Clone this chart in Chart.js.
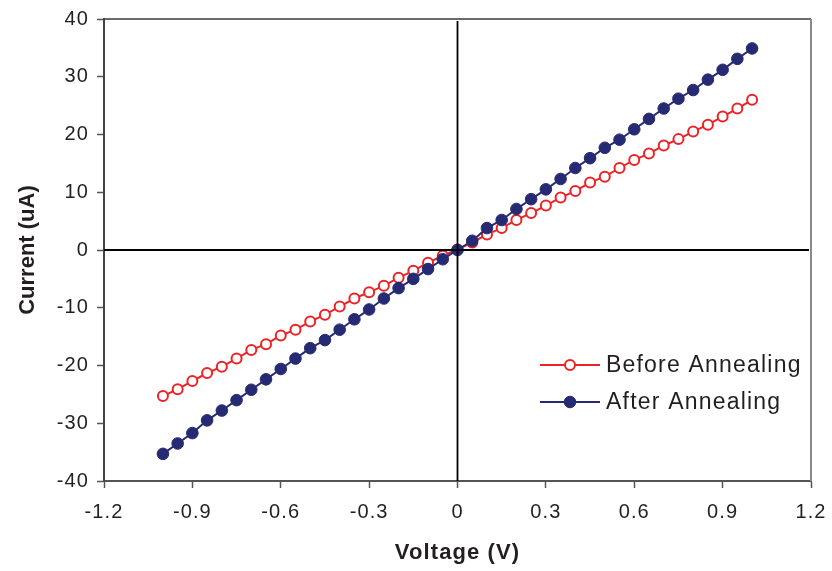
<!DOCTYPE html>
<html><head><meta charset="utf-8">
<script src="https://cdn.jsdelivr.net/npm/chart.js@4/dist/chart.umd.min.js"></script>
<style>html,body{margin:0;padding:0;background:#fff}#wrap{width:832px;height:571px}</style>
</head><body><div id="wrap"><canvas id="c" width="832" height="571"></canvas></div>
<script>
const voltage = [-1.00,-0.95,-0.90,-0.85,-0.80,-0.75,-0.70,-0.65,-0.60,-0.55,-0.50,-0.45,-0.40,-0.35,-0.30,-0.25,-0.20,-0.15,-0.10,-0.05,0.00,0.05,0.10,0.15,0.20,0.25,0.30,0.35,0.40,0.45,0.50,0.55,0.60,0.65,0.70,0.75,0.80,0.85,0.90,0.95,1.00];
const currentBefore = [-25.3,-24.1,-22.7,-21.3,-20.2,-18.8,-17.3,-16.3,-14.8,-13.8,-12.4,-11.2,-9.8,-8.4,-7.3,-6.2,-4.8,-3.6,-2.2,-1.0,0.1,1.3,2.7,3.8,5.2,6.4,7.7,9.1,10.2,11.7,12.7,14.2,15.6,16.7,18.1,19.2,20.5,21.7,23.1,24.5,26.0];
const currentAfter = [-35.3,-33.5,-31.7,-29.5,-27.8,-26.0,-24.2,-22.4,-20.6,-18.8,-17.0,-15.6,-13.8,-12.0,-10.3,-8.4,-6.6,-5.0,-3.3,-1.6,0.0,1.6,3.8,5.2,7.1,8.8,10.5,12.3,14.2,15.9,17.7,19.1,20.9,22.7,24.5,26.2,27.7,29.5,31.2,33.1,34.9];
const xTickValues = [-1.2,-0.9,-0.6,-0.3,0,0.3,0.6,0.9,1.2];
const xTickLabels = ['-1.2','-0.9','-0.6','-0.3','0','0.3','0.6','0.9','1.2'];
const yTickValues = [-40,-30,-20,-10,0,10,20,30,40];
const yTickLabels = ['-40','-30','-20','-10','0','10','20','30','40'];
const seriesLabels = ['Before Annealing','After Annealing'];
const xTitle = 'Voltage (V)';
const yTitle = 'Current (uA)';

const FONT = "'Liberation Sans', Arial, sans-serif";
const TXT = '#231f20';
const RED = '#ec2227';
const BLUE = '#262a72';

const toPoints = ys => voltage.map((v, i) => ({x: v, y: ys[i]}));

const spacingPlugin = {
  id: 'spacing',
  beforeDraw(chart) {
    chart.ctx.letterSpacing = '1.1px';
    const ys = chart.scales.y;
    if (ys && !ys._patched) {
      const orig = ys.drawTitle.bind(ys);
      ys.drawTitle = function() {
        const c = this.ctx; const ls = c.letterSpacing;
        c.letterSpacing = '0px'; orig(); c.letterSpacing = ls;
      };
      ys._patched = true;
    }
  }
};

const framePlugin = {
  id: 'frame',
  beforeDatasetsDraw(chart) {
    const {ctx, chartArea: a} = chart;
    ctx.save();
    ctx.lineWidth = 1.5;
    ctx.strokeStyle = '#3a3a3a';
    ctx.beginPath(); ctx.moveTo(a.left, a.top); ctx.lineTo(a.right, a.top); ctx.stroke();
    ctx.strokeStyle = '#8a8a8a';
    ctx.lineWidth = 2;
    ctx.beginPath(); ctx.moveTo(a.right, a.top); ctx.lineTo(a.right, a.bottom); ctx.stroke();
    ctx.restore();
  },
  afterDatasetsDraw(chart) {
    const {ctx, chartArea: a, scales} = chart;
    const x0 = scales.x.getPixelForValue(0);
    const y0 = scales.y.getPixelForValue(0);
    ctx.save();
    ctx.strokeStyle = '#000';
    ctx.lineWidth = 2;
    ctx.beginPath(); ctx.moveTo(a.left, y0); ctx.lineTo(a.right - 2, y0); ctx.stroke();
    ctx.lineWidth = 1.8;
    ctx.beginPath(); ctx.moveTo(x0, a.top + 2); ctx.lineTo(x0, a.bottom); ctx.stroke();
    ctx.restore();
  }
};

const legendPlugin = {
  id: 'insideLegend',
  afterDraw(chart) {
    const {ctx} = chart;
    const x0 = 540, x1 = 600, tx = 606;
    const rows = [365, 402];
    ctx.save();
    ctx.letterSpacing = '1.2px';
    ctx.font = '23px ' + FONT;
    ctx.textBaseline = 'middle';
    ctx.textAlign = 'left';
    chart.data.datasets.forEach((ds, i) => {
      const y = rows[i];
      ctx.strokeStyle = ds.borderColor;
      ctx.lineWidth = 2;
      ctx.beginPath(); ctx.moveTo(x0, y); ctx.lineTo(x1, y); ctx.stroke();
      ctx.beginPath();
      ctx.arc((x0 + x1) / 2, y, ds.pointRadius, 0, Math.PI * 2);
      ctx.fillStyle = ds.pointBackgroundColor;
      ctx.fill();
      ctx.lineWidth = ds.pointBorderWidth;
      ctx.strokeStyle = ds.pointBorderColor;
      ctx.stroke();
      ctx.fillStyle = TXT;
      ctx.fillText(ds.label, tx, y + 1);
    });
    ctx.restore();
  }
};

new Chart(document.getElementById('c'), {
  type: 'scatter',
  data: {
    datasets: [
      {
        label: seriesLabels[0],
        data: toPoints(currentBefore),
        showLine: true,
        borderColor: RED,
        borderWidth: 2,
        pointRadius: 5,
        pointBorderWidth: 2,
        pointBackgroundColor: '#ffffff',
        pointBorderColor: RED,
        order: 1
      },
      {
        label: seriesLabels[1],
        data: toPoints(currentAfter),
        showLine: true,
        borderColor: BLUE,
        borderWidth: 2,
        pointRadius: 5.8,
        pointBorderWidth: 1,
        pointBackgroundColor: BLUE,
        pointBorderColor: BLUE,
        order: 0
      }
    ]
  },
  options: {
    responsive: false,
    animation: false,
    events: [],
    layout: {padding: {left: 0, top: 19, right: 21, bottom: 0}},
    plugins: {legend: {display: false}, tooltip: {enabled: false}},
    scales: {
      x: {
        type: 'linear',
        min: -1.2, max: 1.2,
        afterBuildTicks: s => { s.ticks = xTickValues.map(v => ({value: v})); },
        afterFit: s => { s.height = 90; s.paddingLeft = 0; s.paddingRight = 0; },
        ticks: {
          callback: (v, i) => xTickLabels[i],
          font: {family: FONT, size: 20},
          color: TXT,
          padding: 12,
          maxRotation: 0,
          autoSkip: false
        },
        grid: {drawOnChartArea: false, drawTicks: true, tickLength: 7, tickColor: '#555', tickWidth: 1.5},
        border: {display: true, color: '#555', width: 2},
        title: {display: true, text: xTitle, color: TXT, font: {family: FONT, size: 22, weight: 'bold'}, padding: {top: 0, bottom: 5}}
      },
      y: {
        type: 'linear',
        min: -40, max: 40,
        afterBuildTicks: s => { s.ticks = yTickValues.map(v => ({value: v})); },
        afterFit: s => { s.width = 104; s.paddingTop = 0; s.paddingBottom = 0; },
        ticks: {
          callback: (v, i) => yTickLabels[i],
          font: {family: FONT, size: 20},
          color: TXT,
          padding: 8,
          autoSkip: false
        },
        grid: {drawOnChartArea: false, drawTicks: true, tickLength: 7, tickColor: '#555', tickWidth: 1.5},
        border: {display: true, color: '#444', width: 2},
        title: {display: true, text: yTitle, color: TXT, font: {family: FONT, size: 22, weight: 'bold'}, padding: {top: 15, bottom: 0}}
      }
    }
  },
  plugins: [spacingPlugin, framePlugin, legendPlugin]
});
</script>
</body></html>
